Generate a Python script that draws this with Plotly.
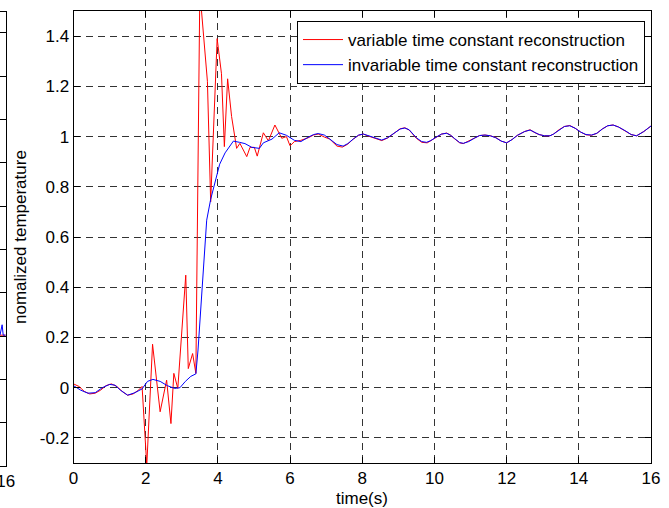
import plotly.graph_objects as go

# ---------------- data ----------------
blue_t = [0.0, 0.2, 0.4, 0.6, 0.8, 1.0, 1.15, 1.3, 1.5, 1.7, 1.9, 2.05, 2.2, 2.4, 2.6, 2.8,
          2.95, 3.1, 3.25, 3.39, 3.45, 3.55, 3.69, 3.8, 3.9, 4.05, 4.2, 4.43, 4.6, 4.75, 4.94,
          5.15, 5.26, 5.4, 5.5, 5.7, 5.9, 6.12, 6.3, 6.5, 6.65, 6.78, 6.95, 7.1, 7.3, 7.47, 7.6,
          7.75, 7.9, 8.03, 8.15, 8.3, 8.54, 8.7, 8.9, 9.05, 9.18, 9.3, 9.5, 9.65, 9.78, 9.9,
          10.05, 10.2, 10.34, 10.45, 10.55, 10.7, 10.8, 10.95, 11.1, 11.25, 11.4, 11.55, 11.7,
          11.85, 12.0, 12.15, 12.3, 12.5, 12.65, 12.8, 12.9, 13.05, 13.2, 13.3, 13.45, 13.6,
          13.75, 13.9, 14.05, 14.2, 14.35, 14.5, 14.65, 14.8, 14.95, 15.1, 15.3, 15.45, 15.6,
          15.8, 16.0]
blue_y = [0.008, -0.01, -0.022, -0.02, 0.0, 0.013, 0.01, -0.01, -0.03, -0.02, -0.005, 0.025,
          0.033, 0.025, 0.008, -0.003, 0.0, 0.025, 0.045, 0.055, 0.15, 0.35, 0.667, 0.75,
          0.81, 0.89, 0.935, 0.982, 0.977, 0.972, 0.957, 0.953, 0.975, 0.985, 0.99, 1.015,
          1.005, 0.985, 0.98, 0.997, 1.008, 1.012, 1.006, 0.99, 0.968, 0.962, 0.972, 0.99,
          1.006, 1.01, 1.004, 0.995, 0.986, 0.995, 1.015, 1.03, 1.034, 1.027, 0.995, 0.98,
          0.977, 0.984, 0.998, 1.01, 1.013, 1.005, 0.993, 0.976, 0.973, 0.98, 0.993, 1.004,
          1.006, 1.003, 0.995, 0.982, 0.975, 0.988, 1.005, 1.02, 1.026, 1.015, 1.008, 1.003,
          1.003, 1.01, 1.026, 1.04, 1.043, 1.033, 1.018, 1.008, 1.006, 1.013, 1.03, 1.043,
          1.046, 1.038, 1.022, 1.008, 1.003, 1.02, 1.042]

red_t = [0.0, 0.15, 0.3, 0.45, 0.6, 0.75, 0.9, 1.05, 1.2, 1.35, 1.5, 1.65, 1.8, 1.9, 2.03,
         2.19, 2.4, 2.58, 2.7, 2.78, 2.89, 3.11, 3.18, 3.3, 3.39, 3.5, 3.71, 3.8, 3.98, 4.1,
         4.18, 4.27, 4.38, 4.52, 4.61, 4.8, 4.89, 5.01, 5.09, 5.26, 5.4, 5.58, 5.77, 5.9, 6.0,
         6.12, 6.3, 6.5, 6.65, 6.78, 6.95, 7.1, 7.3, 7.45, 7.6, 7.75, 7.9, 8.03, 8.15, 8.3,
         8.54, 8.7, 8.9, 9.05, 9.18, 9.3, 9.5, 9.65, 9.8, 9.9, 10.05, 10.2, 10.34, 10.45,
         10.55, 10.7, 10.8, 10.95, 11.1, 11.25, 11.4, 11.55, 11.7, 11.85, 12.0, 12.15, 12.3,
         12.5, 12.65, 12.8, 12.9, 13.05, 13.2, 13.3, 13.45, 13.6, 13.75, 13.9, 14.05, 14.2,
         14.35, 14.5, 14.65, 14.8, 14.95, 15.1, 15.3, 15.45, 15.6, 15.8, 16.0]
red_y = [0.015, 0.005, -0.015, -0.025, -0.022, -0.01, 0.008, 0.015, 0.005, -0.015, -0.03,
         -0.025, -0.01, 0.005, -0.31, 0.173, -0.096, 0.03, -0.143, 0.057, -0.003, 0.448,
         0.076, 0.136, 0.057, 1.58, 1.22, 0.74, 1.39, 1.25, 0.96, 1.23, 1.08, 0.953, 0.973,
         0.92, 0.957, 0.957, 0.922, 1.015, 0.983, 1.046, 0.993, 1.0, 0.963, 0.98, 0.985,
         0.995, 1.006, 1.01, 0.998, 0.99, 0.962, 0.958, 0.97, 0.99, 1.005, 1.01, 1.003, 0.995,
         0.984, 0.994, 1.016, 1.031, 1.035, 1.026, 0.993, 0.977, 0.975, 0.984, 0.997, 1.01,
         1.014, 1.005, 0.992, 0.975, 0.972, 0.981, 0.993, 1.004, 1.006, 1.003, 0.996, 0.982,
         0.975, 0.988, 1.005, 1.02, 1.027, 1.014, 1.008, 1.003, 1.003, 1.01, 1.027, 1.04,
         1.044, 1.033, 1.018, 1.007, 1.005, 1.013, 1.03, 1.043, 1.046, 1.038, 1.022, 1.008,
         1.003, 1.02, 1.042]

x_ticks = [0, 2, 4, 6, 8, 10, 12, 14, 16]
y_ticks = [-0.2, 0, 0.2, 0.4, 0.6, 0.8, 1.0, 1.2, 1.4]
y_tick_labels = ["-0.2", "0", "0.2", "0.4", "0.6", "0.8", "1", "1.2", "1.4"]

# fragment of the neighbouring (cropped) subplot at the far left
left_t = [15.84, 15.88, 15.9, 15.93, 16.0]
left_blue = [3.02, 3.15, 3.26, 3.02, 3.02]
left_red = [3.02, 3.02, 3.02, 3.02, 3.02]

W, H = 669, 508
ML, MR, MT, MB = 0, 0, 11, 42
PW, PH = W - ML - MR, H - MT - MB
px = lambda v: (v - ML) / PW
py = lambda v: (H - MB - v) / PH

FONT = "Arial, Liberation Sans, sans-serif"

fig = go.Figure()
fig.add_trace(go.Scatter(x=red_t, y=red_y, mode="lines", name="variable time constant reconstruction",
                         line=dict(color="#ff0000", width=1), legendgroup="a"))
fig.add_trace(go.Scatter(x=blue_t, y=blue_y, mode="lines", name="invariable time constant reconstruction",
                         line=dict(color="#0000ff", width=1), legendgroup="b"))
fig.add_trace(go.Scatter(x=left_t, y=left_red, mode="lines", line=dict(color="#ff0000", width=1),
                         xaxis="x2", yaxis="y2", showlegend=False))
fig.add_trace(go.Scatter(x=left_t, y=left_blue, mode="lines", line=dict(color="#0000ff", width=1),
                         xaxis="x2", yaxis="y2", showlegend=False))

axis_common = dict(showline=True, linecolor="black", linewidth=1, mirror="ticks", ticks="inside",
                   ticklen=6, tickcolor="black", tickwidth=1, zeroline=False,
                   tickfont=dict(family=FONT, size=17, color="black"))

fig.update_layout(
    width=W, height=H,
    margin=dict(l=ML, r=MR, t=MT, b=MB, autoexpand=False),
    paper_bgcolor="white", plot_bgcolor="white",
    xaxis=dict(domain=[px(73.5), px(651)], range=[0, 16], tickvals=x_ticks, automargin=False,
               showgrid=True, gridcolor="#333333", griddash="7px,5px", gridwidth=1, **axis_common),
    yaxis=dict(domain=[py(463), 1], range=[-0.3, 1.5], tickvals=y_ticks, ticktext=y_tick_labels,
               automargin=False,
               showgrid=True, gridcolor="#333333", griddash="7px,5px", gridwidth=1, **axis_common),
    xaxis2=dict(domain=[0, px(5.7)], range=[15.84, 16], tickvals=[16], anchor="y2", automargin=False,
                ticklabeloverflow="allow",
                showgrid=False, **axis_common),
    yaxis2=dict(domain=[0, py(12)], range=[0, 10.48], dtick=1, showticklabels=False, anchor="x2",
                automargin=False,
                showgrid=False, **{k: v for k, v in axis_common.items() if k != "tickfont"}),
    legend=dict(xref="container", yref="container", x=645 / W, y=1 - 21 / H,
                xanchor="right", yanchor="top", bgcolor="white", bordercolor="black", borderwidth=1,
                font=dict(family=FONT, size=17, color="black"), tracegroupgap=0, itemwidth=40),
    annotations=[
        dict(text="nomalized temperature", textangle=-90, x=px(20), y=py(237), xref="paper", yref="paper",
             showarrow=False, xanchor="center", yanchor="middle", font=dict(family=FONT, size=17, color="black")),
        dict(text="time(s)", x=px(362), y=py(498), xref="paper", yref="paper",
             showarrow=False, xanchor="center", yanchor="middle", font=dict(family=FONT, size=17, color="black")),
    ],
)

fig.write_html("out.html", config={"displayModeBar": False},
               post_script="document.body.style.margin='0px';document.body.style.overflow='hidden';")
